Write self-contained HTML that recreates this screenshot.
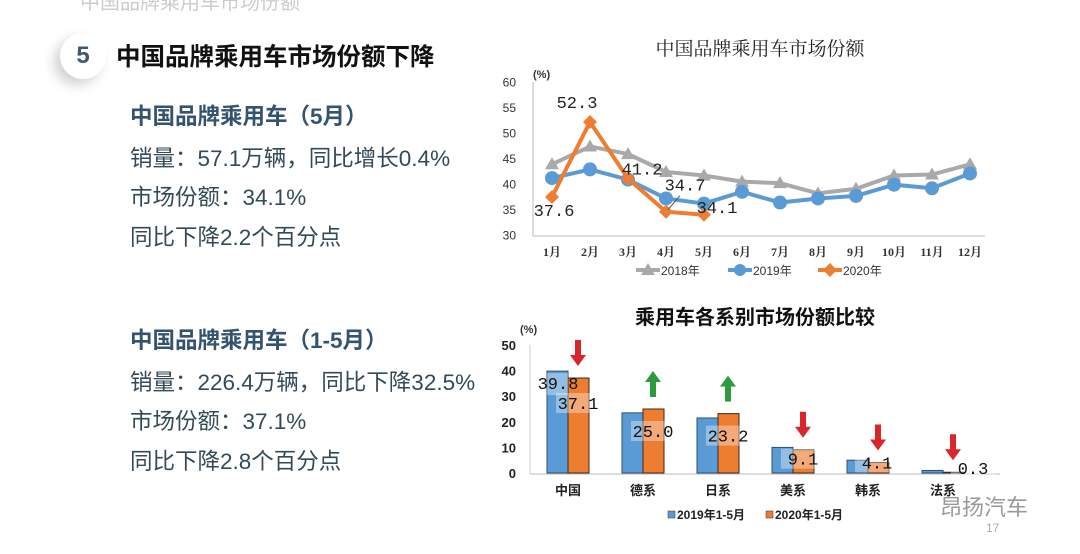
<!DOCTYPE html>
<html><head><meta charset="utf-8">
<style>
body{margin:0;width:1080px;height:554px;background:#fff;overflow:hidden;position:relative;font-family:"Liberation Sans","Noto Sans CJK SC",sans-serif}
.t{position:absolute;white-space:nowrap}
.h{color:#33536e;font-weight:bold;font-size:22.5px}
.b{color:#344a55;font-size:22.5px}
</style></head><body>
<div class="t" style="left:80px;top:-14px;font-size:20px;color:#ccc">中国品牌乘用车市场份额</div>
<div style="position:absolute;left:60px;top:33px;width:46px;height:46px;border-radius:50%;background:#fff;box-shadow:-6px 6px 12px rgba(0,0,0,0.18);color:#3d5a72;font-weight:bold;font-size:24px;text-align:center;line-height:46px">5</div>
<div class="t" style="left:116px;top:38px;font-size:24.5px;font-weight:bold;color:#111">中国品牌乘用车市场份额下降</div>
<div class="t h" style="left:130px;top:99px">中国品牌乘用车（5月）</div>
<div class="t b" style="left:130px;top:141px">销量：57.1万辆，同比增长0.4%</div>
<div class="t b" style="left:130px;top:180px">市场份额：34.1%</div>
<div class="t b" style="left:130px;top:220px">同比下降2.2个百分点</div>
<div class="t h" style="left:130px;top:323px">中国品牌乘用车（1-5月）</div>
<div class="t b" style="left:130px;top:365px">销量：226.4万辆，同比下降32.5%</div>
<div class="t b" style="left:130px;top:404px">市场份额：37.1%</div>
<div class="t b" style="left:130px;top:444px">同比下降2.8个百分点</div>

<svg id="lc" width="1080" height="554" style="position:absolute;left:0;top:0"></svg>
<script>
const months=["1月","2月","3月","4月","5月","6月","7月","8月","9月","10月","11月","12月"];
const s2018=[44,47.5,46,42.5,41.8,40.6,40.3,38.3,39.2,41.8,42,44];
const s2019=[41.3,43,41,37.3,36.3,38.6,36.5,37.3,37.8,40,39.3,42.2];
const s2020=[37.6,52.3,41.2,34.7,34.1];
const yTicks=[30,35,40,45,50,55,60];
const cats=["中国","德系","日系","美系","韩系","法系"];
const b2019=[39.8,23.5,21.5,10,5,1];
const b2020=[37.1,25.0,23.2,9.1,4.1,0.3];
const bTicks=[0,10,20,30,40,50];
const arrowsUp=[false,true,true,false,false,false];

const NS="http://www.w3.org/2000/svg";
const svg=document.getElementById('lc');
function mk(tag,at,txt){const e=document.createElementNS(NS,tag);for(const k in at)e.setAttribute(k,at[k]);if(txt!==undefined)e.textContent=txt;svg.appendChild(e);return e;}
const serif='"Liberation Serif","Noto Serif CJK SC",serif';
const mono='"Liberation Mono",monospace';
// line chart
const lx=i=>552+i*38, ly=v=>235.7-(v-30)*5.1;
let e=mk('text',{x:760,y:55,'text-anchor':'middle','font-size':19,'font-family':serif,fill:'#222'},'中国品牌乘用车市场份额');

mk('line',{x1:533,y1:82,x2:533,y2:236,stroke:'#bbb'});
mk('line',{x1:533,y1:236,x2:985,y2:236,stroke:'#bbb'});
yTicks.forEach(v=>{const t=mk('text',{x:516,y:ly(v)+4,'text-anchor':'end','font-size':12,fill:'#333'},v);
});
mk('text',{x:533,y:78,'font-size':11,'font-weight':'bold',fill:'#333'},'(%)');
months.forEach((m,i)=>{const t=mk('text',{x:lx(i),y:256,'text-anchor':'middle','font-size':12,'font-family':serif,'font-weight':'bold',fill:'#333'},m);
});
function series(d,col,shape,name){
 const p=mk('polyline',{points:d.map((v,i)=>lx(i)+','+ly(v)).join(' '),fill:'none',stroke:col,'stroke-width':4});
 
 d.forEach((v,i)=>{let m;const x=lx(i),y=ly(v);
  if(shape==='tri')m=mk('polygon',{points:`${x},${y-7} ${x-7},${y+5} ${x+7},${y+5}`,fill:col});
  else if(shape==='dia')m=mk('polygon',{points:`${x},${y-7} ${x+7},${y} ${x},${y+7} ${x-7},${y}`,fill:col});
  else m=mk('circle',{cx:x,cy:y,r:7,fill:col});
  });
}
series(s2018,'#a9a9a9','tri','series-2018');
series(s2019,'#5b9bd5','circ','series-2019');
series(s2020,'#ed7d31','dia','series-2020');
const lbl=[[0,2,14],[1,-13,-19],[2,14,-9],[3,19,-26],[4,13,-7]];
lbl.forEach(([i,dx,dy])=>{const t=mk('text',{x:lx(i)+dx,y:ly(s2020[i])+dy+5,'text-anchor':'middle','font-size':17,'font-family':mono,fill:'#222'},s2020[i].toFixed(1));
});
mk('line',{x1:lx(3)+2,y1:ly(s2020[3])-2,x2:lx(3)+14,y2:ly(s2020[3])-16,stroke:'#555','stroke-width':1});
// legend
[['#a9a9a9','tri','2018年',636],['#5b9bd5','circ','2019年',728],['#ed7d31','dia','2020年',818]].forEach(([c,s,t,x])=>{
 mk('line',{x1:x,y1:270,x2:x+24,y2:270,stroke:c,'stroke-width':4});
 if(s==='tri')mk('polygon',{points:`${x+12},${263} ${x+5},${275} ${x+19},${275}`,fill:c});
 else if(s==='circ')mk('circle',{cx:x+12,cy:270,r:6,fill:c});
 else mk('polygon',{points:`${x+12},263 ${x+19},270 ${x+12},277 ${x+5},270`,fill:c});
 const g=mk('text',{x:x+25,y:275,'font-size':12,fill:'#333'},t);
 
});
// bar chart
const bx=i=>568+i*75, by=v=>473-v*2.56;
e=mk('text',{x:755,y:324,'text-anchor':'middle','font-size':20,'font-weight':'bold',fill:'#111'},'乘用车各系别市场份额比较');

mk('text',{x:520,y:333,'font-size':11,'font-weight':'bold',fill:'#333'},'(%)');
mk('line',{x1:530,y1:345,x2:530,y2:474,stroke:'#ccc'});
mk('line',{x1:530,y1:474,x2:1000,y2:474,stroke:'#bbb'});
bTicks.forEach(v=>{const t=mk('text',{x:516,y:by(v)+5,'text-anchor':'end','font-size':13,'font-weight':'bold',fill:'#222'},v);
});
cats.forEach((c,i)=>{
 const x=bx(i);
 const r1=mk('rect',{x:x-21,y:by(b2019[i]),width:21,height:b2019[i]*2.56,fill:'#5b9bd5',stroke:'#2f4f6f','stroke-width':1});
 
 const r2=mk('rect',{x:x,y:by(b2020[i]),width:21,height:b2020[i]*2.56,fill:'#ed7d31',stroke:'#3a2a20','stroke-width':1});
 
 const v=b2020[i];
 let cy=Math.min(by(v)+(v>30?25:(v>20?22:(v>5?9:0))),468);
 let cx=v<1?x+30:(v<5?x+9:x+10);
 mk('rect',{x:cx-22,y:cy-10,width:44,height:20,fill:'#fff','fill-opacity':0.35});
 const t=mk('text',{x:cx,y:cy+6,'text-anchor':'middle','font-size':17,'font-family':mono,fill:'#111'},v.toFixed(1));
 
 if(i===0){const y0=by(b2019[i])+12;
  mk('rect',{x:x-21,y:y0-10,width:21,height:22,fill:'#fff','fill-opacity':0.35});
  const t0=mk('text',{x:x-10,y:y0+6,'text-anchor':'middle','font-size':17,'font-family':mono,fill:'#111'},b2019[i].toFixed(1));
  }
 const l=mk('text',{x:x,y:495,'text-anchor':'middle','font-size':13,'font-weight':'bold',fill:'#222'},c);
 
 const ax=x+10, top=by(b2020[i])-38;
 const a=arrowsUp[i]?mk('polygon',{points:`${ax},${top} ${ax+8},${top+11} ${ax+3},${top+11} ${ax+3},${top+26} ${ax-3},${top+26} ${ax-3},${top+11} ${ax-8},${top+11}`,fill:'#2e9b3a'})
  :mk('polygon',{points:`${ax-3},${top} ${ax+3},${top} ${ax+3},${top+15} ${ax+8},${top+15} ${ax},${top+26} ${ax-8},${top+15} ${ax-3},${top+15}`,fill:'#d9262b'});
 
});
[['#5b9bd5','2019年1-5月',668],['#ed7d31','2020年1-5月',766]].forEach(([c,t,x])=>{
 mk('rect',{x:x,y:511,width:7,height:7,fill:c,stroke:'#333','stroke-width':0.5});
 const g=mk('text',{x:x+9,y:519,'font-size':12,'font-weight':'bold',fill:'#222'},t);
 
});
e=mk('text',{x:940,y:515,'font-size':22,fill:'#999'},'昂扬汽车');

mk('text',{x:986,y:532,'font-size':12,fill:'#aaa'},'17');
</script>
</body></html>
